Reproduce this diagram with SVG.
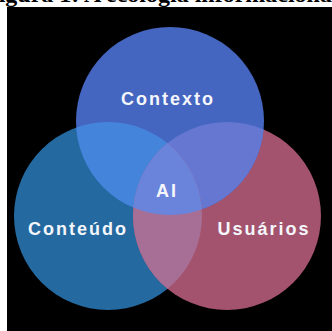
<svg xmlns="http://www.w3.org/2000/svg" width="332" height="331" viewBox="0 0 332 331">
<style>
.lbl{font-family:"Liberation Sans",Arial,sans-serif;font-weight:bold;font-size:18px;fill:#f4f6fb;letter-spacing:2px;text-anchor:middle}
.title{font-family:"Liberation Serif","Times New Roman",serif;font-weight:bold;font-size:24px;fill:#000}
</style>
<defs>
<circle id="cT" cx="170" cy="121" r="94"/>
<circle id="cL" cx="108" cy="216" r="94"/>
<circle id="cR" cx="227" cy="216" r="94"/>
<clipPath id="clipT"><use href="#cT"/></clipPath>
<clipPath id="clipL"><use href="#cL"/></clipPath>
<clipPath id="clipR"><use href="#cR"/></clipPath>
</defs>
<rect width="332" height="331" fill="#fff"/>
<text class="title" x="-16" y="2">Figura 1: A ecologia informacional</text>
<rect x="7" y="7" width="325" height="324" fill="#000"/>
<g id="conteudo">
<use href="#cL" fill="#246aa0"/>
</g>
<g id="usuarios">
<use href="#cR" fill="#a3536e"/>
</g>
<g id="contexto">
<use href="#cT" fill="#4466c0"/>
</g>
<g id="overlaps">
<use href="#cL" fill="#4584db" clip-path="url(#clipT)"/>
<use href="#cR" fill="#6577d0" clip-path="url(#clipT)"/>
<use href="#cR" fill="#a76f95" clip-path="url(#clipL)"/>
<g clip-path="url(#clipT)"><use href="#cR" fill="#6a84dc" clip-path="url(#clipL)"/></g>
</g>
<text class="lbl" x="168" y="105">Contexto</text>
<g id="ai"><text class="lbl" x="167" y="197">AI</text></g>
<text class="lbl" x="78" y="235">Conteúdo</text>
<text class="lbl" x="264" y="235">Usuários</text>
</svg>
